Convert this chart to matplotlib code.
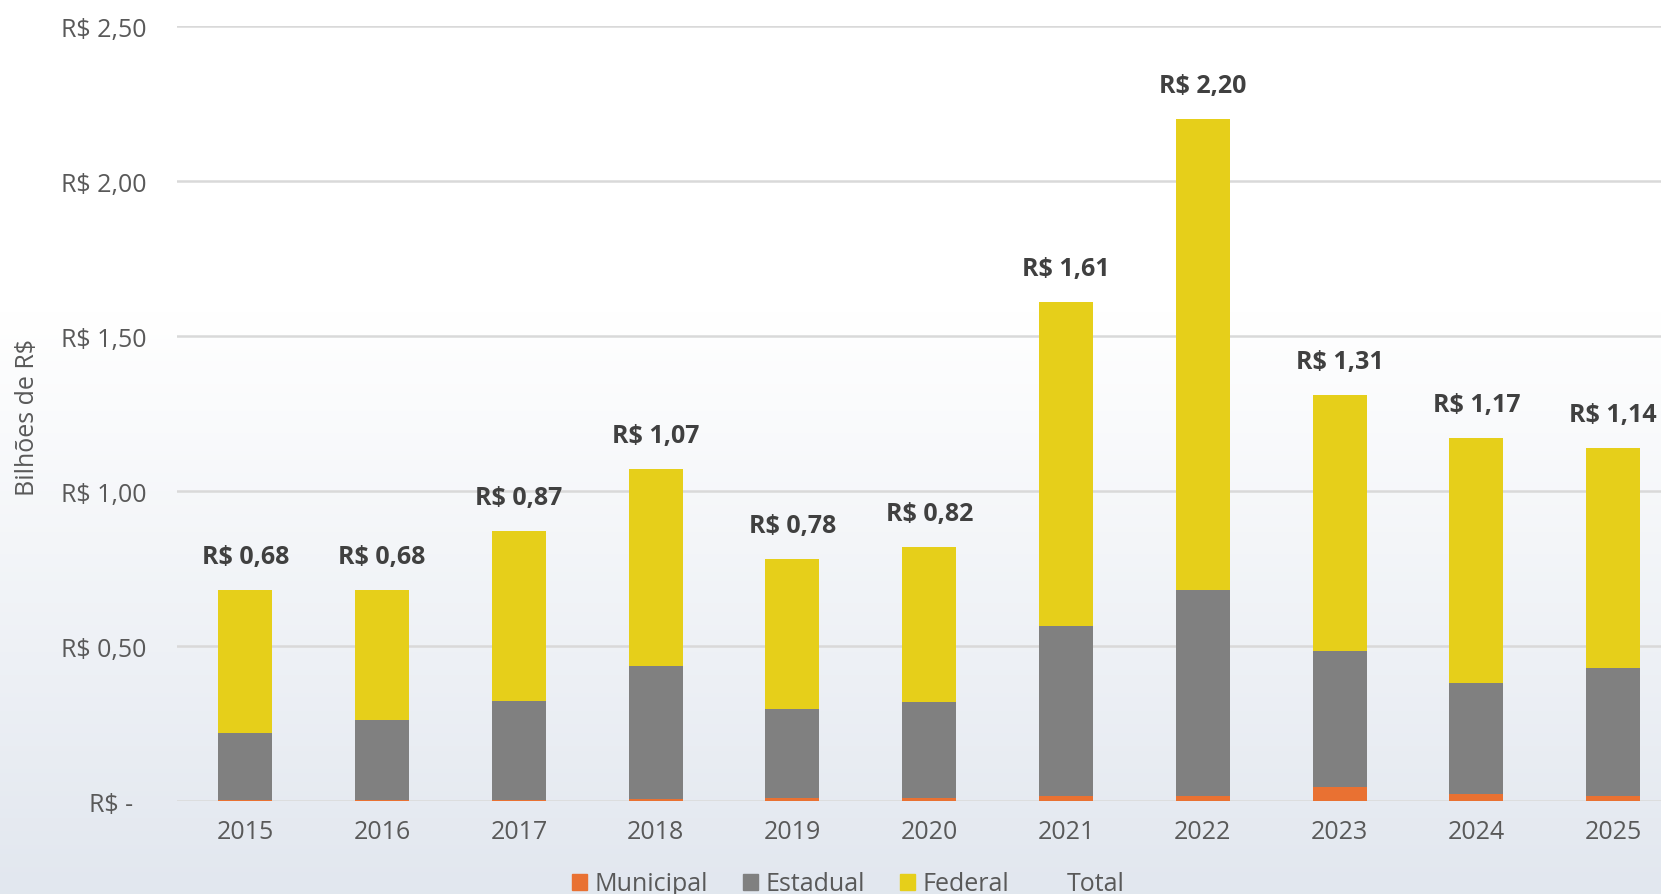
import numpy as np
import matplotlib
matplotlib.use("Agg")
import matplotlib.pyplot as plt
from matplotlib.lines import Line2D
from matplotlib.patches import Patch

plt.rcParams['font.family'] = ['Open Sans', 'DejaVu Sans']

# dados (bilhões de R$)
anos = ['2015', '2016', '2017', '2018', '2019', '2020', '2021', '2022', '2023', '2024', '2025']
municipal = [0.002, 0.002, 0.002, 0.005, 0.010, 0.010, 0.017, 0.015, 0.046, 0.022, 0.015]
estadual = [0.217, 0.258, 0.322, 0.429, 0.287, 0.308, 0.546, 0.665, 0.439, 0.360, 0.415]
total = [0.68, 0.68, 0.87, 1.07, 0.78, 0.82, 1.61, 2.20, 1.31, 1.17, 1.14]
federal = [t - m - e for t, m, e in zip(total, municipal, estadual)]

cor_mun = '#E97132'
cor_est = '#808080'
cor_fed = '#E6CF1A'
cor_txt = '#595959'

fig = plt.figure(figsize=(16.61, 8.95), dpi=100)

# fundo em degradê
bg = fig.add_axes([0, 0, 1, 1], zorder=-10)
grad = np.ones((200, 1, 3))
t = np.linspace(0, 1, 200)
f = np.clip((t - 0.35) / 0.65, 0, 1)
top = np.array([1.0, 1.0, 1.0])
bot = np.array([0.886, 0.906, 0.937])
for i in range(200):
    grad[i, 0, :] = top * (1 - f[i]) + bot * f[i]
bg.imshow(grad, aspect='auto', extent=[0, 1, 0, 1], origin='upper')
bg.axis('off')

ax = fig.add_axes([177 / 1661, 0.1039, 1 - 177 / 1661, 0.8659])
ax.patch.set_alpha(0)

x = np.arange(len(anos))
w = 0.395
ax.bar(x, municipal, w, color=cor_mun, label='Municipal', zorder=3)
b1 = [m for m in municipal]
ax.bar(x, estadual, w, bottom=b1, color=cor_est, label='Estadual', zorder=3)
b2 = [m + e for m, e in zip(municipal, estadual)]
ax.bar(x, federal, w, bottom=b2, color=cor_fed, label='Federal', zorder=3)

for xi, tv in zip(x, total):
    ax.annotate('R$ ' + f'{tv:.2f}'.replace('.', ','), (xi, tv), xytext=(0, 24),
                textcoords='offset points', ha='center', va='center',
                fontsize=18, fontweight='bold', color='#404040')

ax.set_xlim(-0.5, 10.35)
ax.set_ylim(0, 2.5)
yt = [0, 0.5, 1.0, 1.5, 2.0, 2.5]
ax.set_yticks(yt)
ax.set_yticklabels(['R$ -  '] + ['R$ ' + f'{v:.2f}'.replace('.', ',') for v in yt[1:]])
ax.set_xticks(x)
ax.set_xticklabels(anos)
ax.tick_params(axis='both', length=0, labelsize=18, colors=cor_txt)
ax.tick_params(axis='y', pad=22)
ax.tick_params(axis='x', pad=13)
ax.grid(axis='y', color='#d9d9d9', linewidth=1.8, zorder=0)
for s in ax.spines.values():
    s.set_visible(False)

fig.text(28 / 1661, 1 - 418 / 895, 'Bilhões de R$', rotation=90, ha='center', va='center',
         fontsize=18, color=cor_txt)

handles = [Patch(color=cor_mun), Patch(color=cor_est), Patch(color=cor_fed),
           Line2D([], [], linestyle='none')]
fig.legend(handles, ['Municipal', 'Estadual', 'Federal', 'Total'], loc='center',
           bbox_to_anchor=(0.511, 1 - 885 / 895), ncol=4, frameon=False, fontsize=18,
           labelcolor=cor_txt, handlelength=0.6, handleheight=0.6, handletextpad=0.3,
           columnspacing=1.4)

fig.savefig('out.png', dpi=100)
